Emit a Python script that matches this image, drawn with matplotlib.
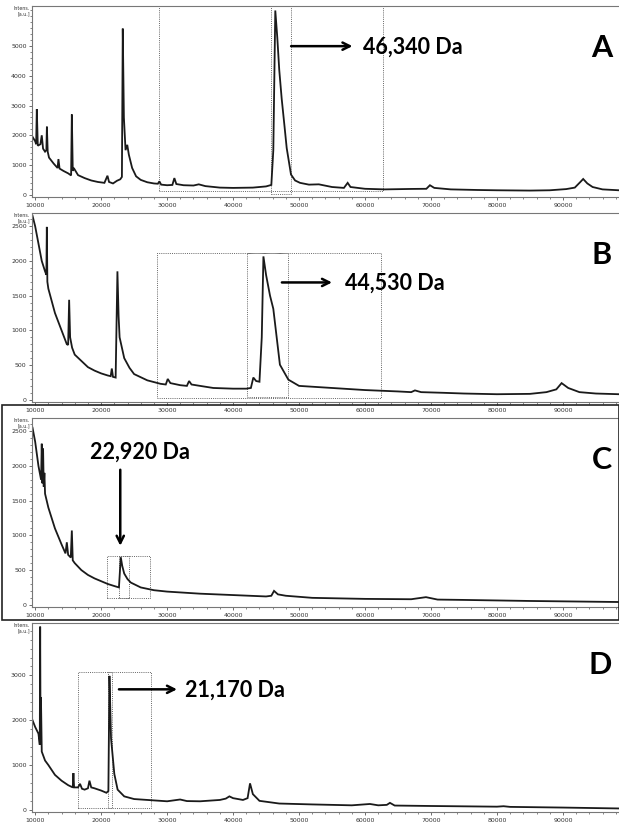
###############################################################################
#0. Import Modules & Data
###############################################################################

import matplotlib
matplotlib.use('Agg')
import matplotlib.pyplot as plt
from matplotlib.patches import Rectangle
from matplotlib.ticker import MultipleLocator
import numpy as np

#Panel A spectrum (m/z, intensity)
massA = [9600, 10000, 10150, 10250, 10400, 10800, 11000, 11200, 11500, 11700, 11780, 11900, 12100, 12800,
         13400, 13530, 13700, 14300, 15000, 15450, 15560, 15700, 15850, 16500, 17500, 18500, 19500, 20500,
         20960, 21200, 21800, 22400, 22900, 23150, 23280, 23450, 23700, 23960, 24200, 24700, 25300, 26000,
         27000, 28000, 28600, 28830, 29100, 30000, 30800, 31100, 31400, 32500, 34000, 34800, 35800, 38000,
         40000, 43000, 45000, 45800, 46100, 46400, 46700, 47000, 47370, 47800, 48130, 48780, 49400, 50150,
         51500, 53000, 55000, 56800, 57370, 57800, 60000, 63000, 67000, 69300, 69840, 70500, 73000, 77000,
         80000, 85000, 88000, 90500, 91800, 92600, 93070, 93700, 94500, 96000, 98500]
intensA = [1950, 1800, 1700, 2880, 1650, 1700, 2000, 1550, 1450, 1500, 2290, 1450, 1250, 1050,
           900, 1200, 880, 800, 720, 650, 2700, 800, 900, 660, 560, 480, 430, 400,
           640, 430, 380, 470, 520, 600, 5590, 2600, 1500, 1680, 1350, 900, 620, 500,
           420, 380, 370, 450, 340, 320, 330, 560, 360, 320, 310, 350, 290, 240,
           230, 240, 280, 330, 1500, 6200, 5300, 4200, 3230, 2300, 1570, 680, 480, 400,
           340, 350, 260, 230, 400, 260, 200, 180, 195, 200, 320, 230, 180, 160,
           150, 140, 150, 190, 240, 420, 530, 380, 260, 180, 150]

#Panel B spectrum
massB = [9600, 10000, 10500, 11000, 11500, 11700, 11770, 11850, 12000, 13000, 14000, 14800, 15000, 15150,
         15300, 15600, 16000, 17000, 18000, 19000, 20000, 21000, 21450, 21620, 21800, 22200, 22470, 22650,
         22800, 23500, 24300, 25000, 27000, 29000, 29800, 30100, 30500, 32000, 33000, 33330, 33700, 35000,
         37000, 40000, 42000, 42700, 43070, 43500, 44000, 44350, 44600, 45000, 45600, 46100, 47100, 48380,
         50000, 55000, 60000, 65000, 67000, 67570, 68500, 72000, 75000, 80000, 85000, 87500, 89000, 89800,
         90800, 92500, 95000, 98500]
intensB = [2650, 2500, 2250, 2000, 1850, 1800, 2490, 1700, 1600, 1250, 1000, 800, 790, 1440,
           900, 750, 650, 560, 470, 420, 380, 350, 340, 450, 330, 320, 1850, 1200,
           900, 600, 460, 370, 280, 230, 220, 300, 240, 210, 200, 270, 220, 200,
           170, 160, 160, 170, 320, 270, 260, 900, 2065, 1800, 1500, 1310, 505, 290,
           200, 170, 140, 120, 110, 135, 110, 100, 90, 80, 85, 110, 150, 240,
           170, 110, 90, 80]

#Panel C spectrum
massC = [9600, 10000, 10500, 10900, 11000, 11100, 11200, 11300, 11400, 11500, 12000, 13000, 14000, 14600,
         14800, 15000, 15400, 15560, 15700, 16000, 17000, 18000, 19000, 20000, 21000, 22000, 22700, 22980,
         23200, 23500, 24000, 24500, 26000, 28000, 30000, 35000, 40000, 45000, 45800, 46210, 46800, 48000,
         52000, 60000, 67000, 69240, 71000, 75000, 85000, 98500]
intensC = [2550, 2350, 2000, 1800, 2320, 1750, 2250, 1700, 1900, 1600, 1400, 1100, 870, 740,
           900, 720, 680, 1070, 640, 600, 500, 430, 380, 340, 300, 270, 250, 685,
           560, 450, 370, 320, 250, 210, 190, 160, 140, 120, 130, 200, 150, 130,
           100, 85, 80, 110, 75, 70, 55, 40]

#Panel D spectrum
massD = [9600, 10000, 10500, 10700, 10760, 10820, 10880, 11000, 11500, 12000, 13000, 14000, 15000, 15700,
         15800, 15900, 16500, 16800, 17100, 17500, 18000, 18230, 18500, 19000, 20000, 20800, 21100, 21260,
         21400, 21500, 22000, 22500, 23500, 25000, 30000, 31970, 33000, 35000, 38000, 38900, 39440, 40000,
         41500, 42200, 42570, 43000, 44000, 47000, 52000, 58000, 60750, 62000, 63300, 63780, 64500, 70000,
         80000, 81000, 82000, 90000, 98500]
intensD = [2000, 1850, 1700, 1450, 4090, 1500, 2510, 1300, 1100, 1000, 780, 650, 550, 500,
           820, 500, 500, 580, 470, 450, 480, 650, 500, 480, 430, 380, 420, 2990,
           2200, 1600, 800, 450, 300, 240, 190, 230, 195, 190, 220, 250, 300, 260,
           220, 260, 590, 350, 200, 140, 120, 100, 130, 100, 110, 155, 95, 85,
           70, 80, 65, 50, 30]

#Peak labels, panel letters and y scales
panelLetters = ['A', 'B', 'C', 'D']
peakLabels = ['46,340 Da', '44,530 Da', '22,920 Da', '21,170 Da']
yTopLimits = [6350, 2690, 2690, 4170]
yTickSteps = [1000, 500, 500, 1000]
yTickMax = [5000, 2500, 2500, 3000]

#Dotted selection boxes (x0, x1, y0, y1)
boxesA = [(28800, 62700, 130, 9000), (45760, 48800, 30, 9000)]
boxesB = [(28500, 62400, 20, 2120), (42100, 48300, 40, 2120)]
boxesC = [(20900, 27400, 100, 700), (22700, 24300, 100, 700)]
boxesD = [(16500, 27600, 30, 3070), (21000, 21600, 30, 3070)]

###############################################################################
#1. Define Functions
###############################################################################

def setupAxis(ax, yTop, yStep, yMax):
    #Axis limits
    ax.set_xlim(9550, 98500)
    ax.set_ylim(-yTop*0.012, yTop)

    #Frame formatting
    for side in ['top', 'left', 'bottom']:
        ax.spines[side].set_color('#777777')
        ax.spines[side].set_linewidth(0.8)
    ax.spines['right'].set_visible(False)

    #Ticks
    ax.xaxis.set_major_locator(MultipleLocator(10000))
    ax.xaxis.set_minor_locator(MultipleLocator(2000))
    ax.set_yticks(np.arange(0, yMax + 1, yStep))
    ax.yaxis.set_minor_locator(MultipleLocator(yStep/5))
    ax.tick_params(axis='both', which='major', labelsize=4.5, length=2.5, width=0.6, color='#555555', pad=1.5, labelcolor='#333333')
    ax.tick_params(axis='both', which='minor', length=1.5, width=0.5, color='#555555')

    #Intensity label at top left
    ax.text(-0.004, 0.998, 'Intens.\n[a.u.]', transform=ax.transAxes, ha='right', va='top', fontsize=3.4, color='#333333', linespacing=1.05)

def drawBoxes(ax, boxes):
    for x0, x1, y0, y1 in boxes:
        ax.add_patch(Rectangle((x0, y0), x1 - x0, y1 - y0, fill=False, ls=(0, (1, 1.2)), lw=0.7, ec='#666666'))

def drawPanel(ax, mass, intens, boxes, letter, yTop, yStep, yMax):
    setupAxis(ax, yTop, yStep, yMax)
    drawBoxes(ax, boxes)
    ax.plot(mass, intens, color='#1a1a1a', lw=1.3, solid_joinstyle='miter')
    ax.text(0.988, 0.78, letter, transform=ax.transAxes, ha='right', va='center', fontsize=22, fontweight='bold', family='Lato')

###############################################################################
#2. Plot figure
###############################################################################

fig = plt.figure(figsize=(6.19, 8.26), dpi=100)
fig.patch.set_facecolor('white')

#Axes positions (left, bottom, width, height)
axPositions = [[0.052, 0.7615, 0.948, 0.2312],
               [0.052, 0.5133, 0.948, 0.2288],
               [0.052, 0.2651, 0.948, 0.2288],
               [0.052, 0.0169, 0.948, 0.2288]]

spectra = [(massA, intensA, boxesA), (massB, intensB, boxesB), (massC, intensC, boxesC), (massD, intensD, boxesD)]
axes = []
for i, (mass, intens, boxes) in enumerate(spectra):
    ax = fig.add_axes(axPositions[i])
    drawPanel(ax, mass, intens, boxes, panelLetters[i], yTopLimits[i], yTickSteps[i], yTickMax[i])
    axes.append(ax)

textKw = dict(fontsize=15.5, fontweight='bold', family='Lato', va='center', ha='left')
arrowKw = dict(arrowstyle='->', lw=1.8, color='black', mutation_scale=13, shrinkA=0, shrinkB=0)

#Panel A label
axes[0].annotate('', xy=(58100, 5000), xytext=(48800, 5000), arrowprops=arrowKw)
axes[0].text(59700, 4970, peakLabels[0], **textKw)

#Panel B label
axes[1].annotate('', xy=(55000, 1690), xytext=(47400, 1690), arrowprops=arrowKw)
axes[1].text(57000, 1680, peakLabels[1], **textKw)

#Panel C label
axes[2].annotate('', xy=(22900, 850), xytext=(22900, 1945), arrowprops=arrowKw)
axes[2].text(25900, 2200, peakLabels[2], fontsize=15.5, fontweight='bold', family='Lato', va='center', ha='center')

#Panel D label
axes[3].annotate('', xy=(31500, 2690), xytext=(22700, 2690), arrowprops=arrowKw)
axes[3].text(32700, 2670, peakLabels[3], **textKw)

#Frame around panel C
fig.add_artist(Rectangle((0.004, 0.249), 0.996, 0.261, transform=fig.transFigure, fill=False, ec='#222222', lw=1.2))

fig.savefig('out.png', dpi=100, facecolor='white')
